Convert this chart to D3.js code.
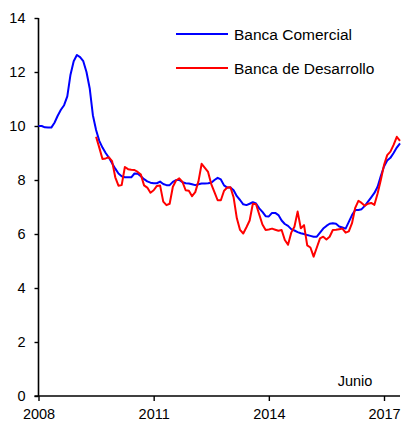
<!DOCTYPE html>
<html>
<head>
<meta charset="utf-8">
<script src="https://cdn.jsdelivr.net/npm/d3@7"></script>
<style>
  html, body { margin: 0; padding: 0; background: #fff; }
  svg { display: block; font-family: "Liberation Sans", Arial, sans-serif; }
</style>
</head>
<body>
<svg id="chart" width="403" height="422"></svg>
<script>
// Monthly rates, Banca Comercial from Jan 2008, Banca de Desarrollo from Jul 2009, both to Jun 2017
const startYear = 2008;
const comercialStart = 0;      // months after Jan 2008
const desarrolloStart = 18;

const comercial = [
  10.0, 10.0, 9.95, 9.94, 9.94, 10.12, 10.38, 10.6, 10.77, 11.1, 11.9, 12.4,
  12.63, 12.55, 12.4, 12.0, 11.4, 10.4, 9.85, 9.45, 9.2, 9.0, 8.83, 8.62,
  8.42, 8.24, 8.14, 8.1, 8.1, 8.1, 8.24, 8.23, 8.14, 8.03, 7.95, 7.9,
  7.88, 7.88, 7.94, 7.85, 7.81, 7.81, 7.93, 8.0, 8.0, 7.92, 7.88, 7.87,
  7.84, 7.81, 7.84, 7.87, 7.87, 7.88, 7.9, 8.0, 8.08, 8.02, 7.8, 7.72,
  7.72, 7.62, 7.4, 7.26, 7.1, 7.07, 7.12, 7.18, 7.13, 6.95, 6.82, 6.66,
  6.65, 6.78, 6.78, 6.7, 6.5, 6.37, 6.3, 6.18, 6.13, 6.07, 6.03, 6.0,
  5.96, 5.93, 5.9, 5.9, 6.05, 6.2, 6.3, 6.38, 6.4, 6.38, 6.28, 6.24,
  6.2, 6.45, 6.7, 6.89, 6.89, 6.92, 7.04, 7.2, 7.36, 7.52, 7.75, 8.15,
  8.5, 8.72, 8.82, 9.0, 9.2, 9.36
];

const desarrollo = [
  9.6, 9.2, 8.78, 8.8, 8.84, 8.7,
  8.1, 7.79, 7.81, 8.48, 8.4, 8.38, 8.37, 8.3, 8.2, 7.8, 7.72, 7.53,
  7.62, 7.78, 7.8, 7.2, 7.07, 7.12, 7.75, 7.98, 8.06, 7.93, 7.62, 7.6,
  7.4, 7.55, 7.95, 8.6, 8.45, 8.3, 7.85, 7.55, 7.25, 7.25, 7.6, 7.72,
  7.73, 7.35, 6.58, 6.15, 6.02, 6.25, 6.5, 7.12, 7.1, 6.72, 6.35, 6.15,
  6.17, 6.2, 6.16, 6.12, 6.15, 5.78, 5.6, 6.05, 6.27, 6.83, 6.21, 6.33,
  5.58, 5.5, 5.16, 5.5, 5.84, 5.9, 5.8, 5.9, 6.15, 6.16, 6.18, 6.2,
  6.05, 6.1, 6.4, 6.97, 7.23, 7.15, 7.05, 7.12, 7.15, 7.08, 7.5, 8.0,
  8.55, 8.92, 9.05, 9.3, 9.6, 9.45
];

const yearTicks = [2008, 2011, 2014, 2017];
const valueTicks = [0, 2, 4, 6, 8, 10, 12, 14];
const seriesNames = ["Banca Comercial", "Banca de Desarrollo"];
const seriesColors = ["#0000ff", "#ff0000"];
const endNote = "Junio";

const toPoints = (vals, start) => vals.map((v, i) => ({ t: startYear + (start + i) / 12, v }));
const series = [toPoints(comercial, comercialStart), toPoints(desarrollo, desarrolloStart)];

const svg = d3.select("#chart");
const lastT = startYear + (comercialStart + comercial.length - 1) / 12;

const x = d3.scaleLinear().domain([2008, lastT]).range([38.5, 400]);
const y = d3.scaleLinear().domain([0, 14]).range([396, 18]);

const fontFamily = "Liberation Sans, Arial, sans-serif";

// y axis
const yAxis = svg.append("g")
  .attr("transform", `translate(${x(2008)},0)`)
  .call(d3.axisLeft(y).tickValues(valueTicks).tickSize(4).tickPadding(9).tickFormat(d3.format("d")));
yAxis.select(".domain").attr("stroke", "#000").attr("stroke-width", 1.6).attr("d", `M0,${y(14)}V${y(0)}`);
yAxis.selectAll(".tick line").attr("stroke", "#000").attr("stroke-width", 1.4);
yAxis.selectAll(".tick text").attr("font-size", 14.5).attr("fill", "#000").attr("font-family", fontFamily);

// x axis
const xAxis = svg.append("g")
  .attr("transform", `translate(0,${y(0)})`)
  .call(d3.axisBottom(x).tickValues(yearTicks).tickSize(5).tickPadding(8).tickFormat(d3.format("d")));
xAxis.select(".domain").attr("stroke", "#000").attr("stroke-width", 1.6).attr("d", `M${x(2008) - 4},0H${x(lastT)}`);
xAxis.selectAll(".tick line").attr("stroke", "#000").attr("stroke-width", 1.4);
xAxis.selectAll(".tick text").attr("font-size", 14.5).attr("fill", "#000").attr("font-family", fontFamily);

// series lines
const line = d3.line().x(d => x(d.t)).y(d => y(d.v));
series.forEach((s, i) => {
  svg.append("path")
    .datum(s)
    .attr("fill", "none")
    .attr("stroke", seriesColors[i])
    .attr("stroke-width", 2)
    .attr("stroke-linejoin", "round")
    .attr("d", line);
});

// legend
const legend = svg.append("g");
seriesNames.forEach((name, i) => {
  const ly = 34 + i * 34;
  legend.append("line")
    .attr("x1", 176).attr("x2", 228)
    .attr("y1", ly).attr("y2", ly)
    .attr("stroke", seriesColors[i]).attr("stroke-width", 2);
  legend.append("text")
    .attr("x", 234).attr("y", ly + 5.5)
    .attr("font-size", 15.5).attr("fill", "#000")
    .text(name);
});

// end-of-data note
svg.append("text")
  .attr("x", 355).attr("y", 385.5)
  .attr("text-anchor", "middle")
  .attr("font-size", 14.5).attr("fill", "#000")
  .text(endNote);
</script>
</body>
</html>
